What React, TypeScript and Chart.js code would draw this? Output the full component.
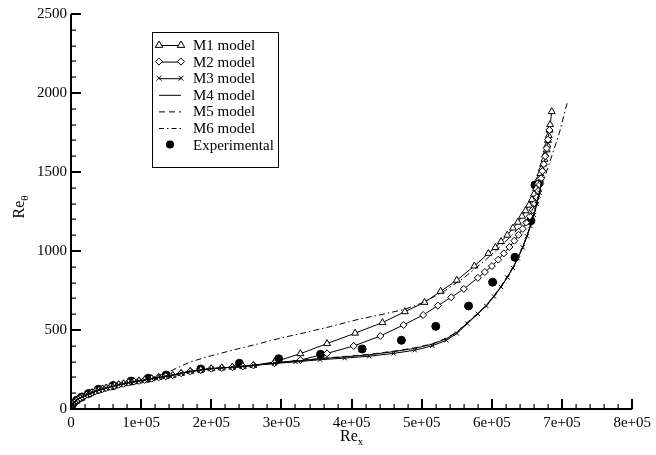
import React, { useEffect, useRef } from 'react';
import { Chart, registerables } from 'chart.js';

Chart.register(...registerables);

// ---------- axis ticks ----------
const xTickLabels = ['0', '1e+05', '2e+05', '3e+05', '4e+05', '5e+05', '6e+05', '7e+05', '8e+05'];
const yTickLabels = ['0', '500', '1000', '1500', '2000', '2500'];

// ---------- shared laminar part ----------
const baseX = [0, 1e3, 2e3, 3.5e3, 5e3, 7e3, 1e4, 1.3e4, 1.6e4, 2e4, 2.3e4, 2.7e4, 3e4, 3.5e4, 4e4, 4.5e4, 5e4, 5.6e4, 6.2e4, 6.8e4, 7.5e4, 8.2e4, 9e4, 9.7e4, 1.05e5, 1.15e5, 1.25e5, 1.35e5, 1.45e5, 1.57e5, 1.7e5, 1.85e5, 2e5, 2.15e5, 2.3e5, 2.45e5, 2.6e5];
const baseY = [12, 22, 30, 38, 45, 53, 62, 70, 78, 85, 92, 98, 104, 112, 120, 127, 133, 140, 147, 154, 160, 167, 173, 178, 184, 192, 200, 207, 214, 226, 238, 247, 255, 260, 265, 270, 276];

// ---------- M1 model ----------
const m1TailX = [2.9e5, 3.27e5, 3.65e5, 4.05e5, 4.44e5, 4.76e5, 5.04e5, 5.27e5, 5.5e5, 5.75e5, 5.95e5, 6.05e5, 6.13e5, 6.22e5, 6.3e5, 6.37e5, 6.43e5, 6.48e5, 6.53e5, 6.57e5, 6.6e5, 6.63e5, 6.65e5, 6.67e5, 6.69e5, 6.71e5, 6.73e5, 6.75e5, 6.76e5, 6.78e5, 6.79e5, 6.8e5, 6.81e5, 6.82e5, 6.83e5, 6.853e5];
const m1TailY = [298, 350, 414, 480, 547, 616, 675, 745, 815, 905, 985, 1022, 1060, 1100, 1145, 1182, 1220, 1255, 1290, 1325, 1360, 1395, 1430, 1460, 1490, 1520, 1550, 1580, 1610, 1640, 1670, 1700, 1730, 1765, 1800, 1882];

// ---------- M2 model ----------
const m2TailX = [2.9e5, 3.27e5, 3.65e5, 4.03e5, 4.41e5, 4.74e5, 5.02e5, 5.23e5, 5.42e5, 5.6e5, 5.8e5, 5.9e5, 6.0e5, 6.09e5, 6.17e5, 6.25e5, 6.32e5, 6.38e5, 6.44e5, 6.49e5, 6.54e5, 6.58e5, 6.61e5, 6.64e5, 6.66e5, 6.68e5, 6.7e5, 6.72e5, 6.74e5, 6.76e5, 6.78e5, 6.8e5, 6.82e5];
const m2TailY = [290, 310, 352, 399, 462, 532, 595, 654, 707, 760, 830, 867, 905, 945, 985, 1025, 1065, 1102, 1140, 1180, 1220, 1260, 1300, 1340, 1380, 1420, 1460, 1505, 1550, 1600, 1650, 1705, 1766];

// ---------- M3 / M4 / M5 models ----------
const lowTailX = [2.9e5, 3.2e5, 3.55e5, 3.9e5, 4.25e5, 4.6e5, 4.9e5, 5.15e5, 5.35e5, 5.5e5, 5.65e5, 5.8e5, 5.92e5, 6.03e5, 6.13e5, 6.22e5, 6.3e5, 6.37e5, 6.44e5, 6.5e5, 6.55e5, 6.6e5, 6.64e5, 6.68e5, 6.71e5];
const m3TailY = [288, 298, 312, 322, 334, 352, 372, 400, 435, 478, 540, 602, 652, 712, 772, 832, 893, 953, 1023, 1093, 1158, 1228, 1298, 1368, 1440];
const m4TailY = [290, 303, 318, 330, 343, 363, 384, 410, 445, 485, 545, 605, 655, 715, 775, 835, 895, 955, 1025, 1095, 1160, 1230, 1300, 1370, 1440];
const m5TailY = [291, 305, 320, 332, 346, 366, 387, 413, 448, 488, 548, 607, 657, 717, 777, 837, 897, 957, 1027, 1097, 1162, 1232, 1302, 1372, 1442];

// ---------- M6 model ----------
const m6X = [0, 5e3, 1e4, 2.3e4, 4e4, 6.2e4, 9e4, 1.05e5, 1.25e5, 1.45e5, 1.7e5, 2e5, 2.3e5, 2.65e5, 3e5, 3.35e5, 3.7e5, 4.1e5, 4.45e5, 4.75e5, 5e5, 5.3e5, 5.6e5, 5.9e5, 6.15e5, 6.35e5, 6.5e5, 6.6e5, 6.68e5, 6.74e5, 6.8e5, 6.86e5, 6.92e5, 6.97e5, 7.01e5, 7.05e5, 7.08e5];
const m6Y = [12, 45, 62, 92, 120, 147, 173, 186, 212, 247, 298, 337, 372, 410, 450, 485, 522, 568, 600, 630, 670, 740, 830, 940, 1040, 1130, 1200, 1280, 1370, 1450, 1530, 1610, 1690, 1760, 1830, 1900, 1945];

// ---------- Experimental ----------
const expX = [2e3, 8e3, 1.5e4, 2.5e4, 3.9e4, 6e4, 8.57e4, 1.1e5, 1.357e5, 1.85e5, 2.4e5, 2.96e5, 3.557e5, 4.15e5, 4.71e5, 5.2e5, 5.667e5, 6.01e5, 6.329e5, 6.557e5, 6.614e5];
const expY = [30, 55, 75, 98, 125, 148, 177, 195, 215, 253, 289, 318, 346, 380, 435, 523, 652, 803, 960, 1192, 1418];

const legendLabels = ['M1 model', 'M2 model', 'M3 model', 'M4 model', 'M5 model', 'M6 model', 'Experimental'];

const FONT = "'Liberation Serif', 'DejaVu Serif', 'Times New Roman', serif";

function pts(xs: number[], ys: number[]) {
  return xs.map((x, i) => ({ x, y: ys[i] }));
}

function drawMarker(ctx: CanvasRenderingContext2D, kind: string, cx: number, cy: number) {
  ctx.save();
  ctx.strokeStyle = '#000';
  ctx.lineWidth = 1;
  ctx.setLineDash([]);
  ctx.beginPath();
  if (kind === 'triangle') {
    const r = 4;
    ctx.moveTo(cx, cy - r);
    ctx.lineTo(cx + r * 0.95, cy + r * 0.6);
    ctx.lineTo(cx - r * 0.95, cy + r * 0.6);
    ctx.closePath();
    ctx.fillStyle = '#fff';
    ctx.fill();
    ctx.stroke();
  } else if (kind === 'diamond') {
    const r = 3.5;
    ctx.moveTo(cx, cy - r);
    ctx.lineTo(cx + r, cy);
    ctx.lineTo(cx, cy + r);
    ctx.lineTo(cx - r, cy);
    ctx.closePath();
    ctx.fillStyle = '#fff';
    ctx.fill();
    ctx.stroke();
  } else if (kind === 'cross') {
    const r = 2.5;
    ctx.moveTo(cx - r, cy - r);
    ctx.lineTo(cx + r, cy + r);
    ctx.moveTo(cx + r, cy - r);
    ctx.lineTo(cx - r, cy + r);
    ctx.stroke();
  } else if (kind === 'dot') {
    ctx.arc(cx, cy, 4, 0, Math.PI * 2);
    ctx.fillStyle = '#000';
    ctx.fill();
  }
  ctx.restore();
}

const tecplotPlugin = {
  id: 'tecplotDecor',
  afterDraw(chart: any) {
    const ctx: CanvasRenderingContext2D = chart.ctx;
    const area = chart.chartArea;
    const left = area.left, right = area.right, top = area.top, bottom = area.bottom;
    const xs = chart.scales.x;
    const ys = chart.scales.y;
    ctx.save();
    ctx.setLineDash([]);
    ctx.strokeStyle = '#000000';
    // ticks (inward), drawn as filled rects for crisp output
    ctx.fillStyle = '#000000';
    for (let i = 0; i <= 40; i++) {
      const px = Math.round(xs.getPixelForValue(i * 20000));
      const major = i % 5 === 0;
      const len = major ? 10 : 5;
      ctx.fillRect(px - (major ? 1 : 0.5), bottom - len, major ? 2 : 1.2, len);
    }
    for (let i = 0; i <= 25; i++) {
      const py = Math.round(ys.getPixelForValue(i * 100));
      const major = i % 5 === 0;
      const len = major ? 10 : 5;
      ctx.fillRect(left, py - (major ? 1 : 0.5), len, major ? 2 : 1.2);
    }
    // axis lines
    ctx.fillRect(left - 1, top, 2, bottom - top + 1);
    ctx.fillRect(left - 1, bottom - 1, right - left + 1, 2);

    // axis titles
    ctx.fillStyle = '#000';
    ctx.textBaseline = 'alphabetic';
    ctx.textAlign = 'left';
    ctx.font = `16px ${FONT}`;
    const reW = ctx.measureText('Re').width;
    ctx.font = `11px ${FONT}`;
    const subXW = ctx.measureText('x').width;
    const cxT = (left + right) / 2;
    const startX = cxT - (reW + subXW) / 2;
    ctx.font = `16px ${FONT}`;
    ctx.fillText('Re', startX, 441);
    ctx.font = `11px ${FONT}`;
    ctx.fillText('x', startX + reW, 445);

    ctx.save();
    ctx.translate(24, 207);
    ctx.rotate(-Math.PI / 2);
    ctx.font = `11px ${FONT}`;
    const subTW = ctx.measureText('θ').width;
    const sx = -(reW + subTW) / 2;
    ctx.font = `16px ${FONT}`;
    ctx.fillText('Re', sx, 0);
    ctx.font = `11px ${FONT}`;
    ctx.fillText('θ', sx + reW, 4);
    ctx.restore();

    // legend box
    const bx = 152, by = 32, bw = 126, bh = 135;
    ctx.fillStyle = '#fff';
    ctx.fillRect(bx, by, bw, bh);
    ctx.strokeStyle = '#000';
    ctx.lineWidth = 1;
    ctx.strokeRect(bx + 0.5, by + 0.5, bw, bh);
    const kinds = ['triangle', 'diamond', 'cross', 'solid', 'dashed', 'dashdot', 'dot'];
    ctx.font = `15px ${FONT}`;
    ctx.textBaseline = 'middle';
    for (let i = 0; i < legendLabels.length; i++) {
      const cy = 45 + i * 16.6;
      const x0 = 159, x1 = 181;
      const k = kinds[i];
      if (k !== 'dot') {
        ctx.beginPath();
        ctx.strokeStyle = '#000';
        ctx.lineWidth = 1;
        if (k === 'dashed') ctx.setLineDash([6, 4]);
        else if (k === 'dashdot') ctx.setLineDash([5, 3, 1.5, 3]);
        else ctx.setLineDash([]);
        ctx.moveTo(x0, cy + 0.5);
        ctx.lineTo(x1, cy + 0.5);
        ctx.stroke();
        ctx.setLineDash([]);
      }
      if (k === 'triangle' || k === 'diamond' || k === 'cross') {
        drawMarker(ctx, k, x0, cy);
        drawMarker(ctx, k, x1, cy);
      }
      if (k === 'dot') drawMarker(ctx, 'dot', (x0 + x1) / 2, cy);
      ctx.fillStyle = '#000';
      ctx.fillText(legendLabels[i], 193, cy + 1);
    }
    ctx.restore();
  },
};

export default function App() {
  const canvasRef = useRef<HTMLCanvasElement | null>(null);

  useEffect(() => {
    document.body.style.margin = '0';
    const canvas = canvasRef.current;
    if (!canvas) return;

    const m1 = pts([...baseX, ...m1TailX], [...baseY, ...m1TailY]);
    const m2 = pts([...baseX, ...m2TailX], [...baseY, ...m2TailY]);
    const m3 = pts([...baseX, ...lowTailX], [...baseY, ...m3TailY]);
    const m4 = pts([...baseX, ...lowTailX], [...baseY, ...m4TailY]);
    const m5 = pts([...baseX, ...lowTailX], [...baseY, ...m5TailY]);
    const m6 = pts(m6X, m6Y);
    const ex = pts(expX, expY);

    const common = {
      borderColor: '#000',
      borderWidth: 1,
      fill: false,
      tension: 0,
      pointBorderColor: '#000',
      pointBorderWidth: 1,
    };

    const chart = new Chart(canvas, {
      type: 'line',
      data: {
        datasets: [
          { ...common, label: 'M4 model', data: m4, pointRadius: 0 },
          { ...common, label: 'M5 model', data: m5, pointRadius: 0, borderDash: [6, 4] },
          { ...common, label: 'M6 model', data: m6, pointRadius: 0, borderDash: [6, 3, 1.5, 3] },
          { ...common, label: 'M3 model', data: m3, pointStyle: 'crossRot', pointRadius: 3, pointBackgroundColor: '#000' },
          { ...common, label: 'M2 model', data: m2, pointStyle: 'rectRot', pointRadius: 3.5, pointBackgroundColor: '#fff' },
          { ...common, label: 'M1 model', data: m1, pointStyle: 'triangle', pointRadius: 4, pointBackgroundColor: '#fff' },
          {
            label: 'Experimental', data: ex, showLine: false, pointStyle: 'circle', pointRadius: 4,
            pointBackgroundColor: '#000', pointBorderColor: '#000', borderColor: '#000', backgroundColor: '#000',
          },
        ],
      },
      options: {
        animation: false,
        responsive: true,
        maintainAspectRatio: false,
        parsing: false as any,
        normalized: true,
        layout: { padding: { top: 14, right: 23, left: 0, bottom: 0 } },
        plugins: { legend: { display: false }, tooltip: { enabled: false }, title: { display: false } },
        elements: { line: { borderJoinStyle: 'round' } },
        scales: {
          x: {
            type: 'linear',
            min: 0,
            max: 8e5,
            grid: { display: false, drawTicks: false },
            border: { display: false },
            afterFit: (s: any) => { s.height = 46; },
            ticks: {
              stepSize: 1e5,
              padding: 5,
              color: '#000',
              maxRotation: 0,
              autoSkip: false,
              font: { family: FONT, size: 15 },
              callback: (v: any) => xTickLabels[Math.round(Number(v) / 1e5)] ?? '',
            },
          },
          y: {
            type: 'linear',
            min: 0,
            max: 2500,
            grid: { display: false, drawTicks: false },
            border: { display: false },
            afterFit: (s: any) => { s.width = 71; },
            ticks: {
              stepSize: 500,
              padding: 4,
              color: '#000',
              autoSkip: false,
              font: { family: FONT, size: 15 },
              callback: (v: any) => yTickLabels[Math.round(Number(v) / 500)] ?? '',
            },
          },
        },
      },
      plugins: [tecplotPlugin],
    });

    return () => chart.destroy();
  }, []);

  return (
    <div style={{ position: 'fixed', left: 0, top: 0, width: 656, height: 455, background: '#fff' }}>
      <canvas ref={canvasRef} />
    </div>
  );
}
